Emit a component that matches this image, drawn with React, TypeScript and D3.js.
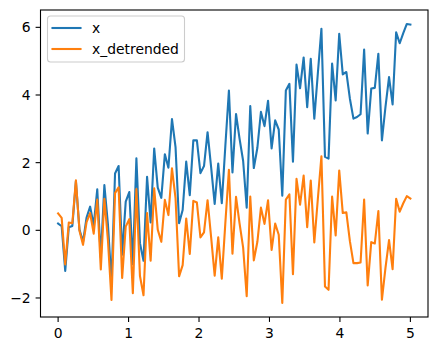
import { useEffect, useRef } from 'react';
import * as d3 from 'd3';

// 100 samples over 0..5
const xValues = [
  0.2, 0.12, -1.2, 0.09, 0.13, 1.45, 0.02, -0.34, 0.38, 0.7,
  0.15, 1.21, -0.8, 1.34, 0.18, -1.53, 1.68, 1.9, -0.72, 0.85,
  1.13, -1.0, 2.13, -0.38, -0.9, 1.58, 0.23, 2.42, 1.26, 0.96,
  2.25, 1.85, 3.29, 2.46, 0.21, 0.6, 2.03, 1.04, 2.66, 2.66,
  1.69, 1.9, 2.9, 1.87, 0.78, 1.97, 0.8, 2.5, 4.13, 1.71,
  3.44, 2.7, 2.05, 0.67, 3.67, 1.84, 2.44, 3.5, 3.08, 3.83,
  2.42, 3.25, 2.98, 1.02, 4.13, 4.33, 2.03, 4.9, 4.2, 5.11,
  3.64, 5.07, 3.3, 4.65, 5.96, 2.17, 2.12, 4.93, 3.84, 5.81,
  4.61, 4.68, 3.89, 3.3, 3.35, 3.43, 5.34, 2.86, 4.19, 4.21,
  5.22, 2.66, 3.65, 4.53, 3.72, 5.85, 5.53, 5.83, 6.1, 6.08,
];

const xDetrended = [
  0.5, 0.37, -1.01, 0.23, 0.21, 1.48, -0.01, -0.43, 0.24, 0.51,
  -0.1, 0.91, -1.16, 0.93, -0.29, -2.06, 1.1, 1.27, -1.41, 0.11,
  0.33, -1.86, 1.22, -1.35, -1.92, 0.51, -0.9, 1.24, 0.02, -0.34,
  0.9, 0.45, 1.83, 0.95, -1.36, -1.03, 0.35, -0.7, 0.87, 0.82,
  -0.21, -0.06, 0.89, -0.2, -1.34, -0.21, -1.43, 0.22, 1.79, -0.69,
  0.99, 0.2, -0.51, -1.95, 1.0, -0.89, -0.34, 0.67, 0.19, 0.89,
  -0.58, 0.2, -0.13, -2.15, 0.91, 1.06, -1.3, 1.52, 0.76, 1.62,
  0.09, 1.47, -0.36, 0.94, 2.19, -1.66, -1.76, 1.0, -0.15, 1.77,
  0.51, 0.53, -0.32, -0.97, -0.97, -0.95, 0.91, -1.63, -0.35, -0.39,
  0.57, -2.05, -1.11, -0.29, -1.15, 0.93, 0.55, 0.8, 1.01, 0.94,
];

const tValues = d3.range(xValues.length).map((i) => (i * 5) / (xValues.length - 1));

const xTicks = [0, 1, 2, 3, 4, 5];
const yTicks = [-2, 0, 2, 4, 6];

const series = [
  { label: 'x', values: xValues, color: '#1f77b4' },
  { label: 'x_detrended', values: xDetrended, color: '#ff7f0e' },
];

const width = 437;
const height = 351;
const font = 'DejaVu Sans, sans-serif';

export default function App() {
  const ref = useRef<SVGSVGElement>(null);

  useEffect(() => {
    if (!ref.current) return;
    const svg = d3.select(ref.current);
    svg.selectAll('*').remove();

    const left = 40.5;
    const right = 428;
    const top = 10;
    const bottom = 317;

    // matplotlib style 5% margins
    const tExt = d3.extent(tValues) as [number, number];
    const tPad = (tExt[1] - tExt[0]) * 0.05;
    const all = [...xValues, ...xDetrended];
    const yMin = d3.min(all) ?? 0;
    const yMax = d3.max(all) ?? 1;
    const yPad = (yMax - yMin) * 0.05;

    const x = d3.scaleLinear().domain([tExt[0] - tPad, tExt[1] + tPad]).range([left, right]);
    const y = d3.scaleLinear().domain([yMin - yPad, yMax + yPad]).range([bottom, top]);

    svg.append('rect').attr('width', width).attr('height', height).attr('fill', '#fff');

    const line = d3
      .line<number>()
      .x((_, i) => x(tValues[i]))
      .y((d) => y(d));

    const plot = svg.append('g');
    series.forEach((s) => {
      plot
        .append('path')
        .datum(s.values)
        .attr('fill', 'none')
        .attr('stroke', s.color)
        .attr('stroke-width', 2.1)
        .attr('stroke-linejoin', 'round')
        .attr('stroke-linecap', 'square')
        .attr('d', line);
    });

    // frame
    svg
      .append('rect')
      .attr('x', left)
      .attr('y', top)
      .attr('width', right - left)
      .attr('height', bottom - top)
      .attr('fill', 'none')
      .attr('stroke', '#000')
      .attr('stroke-width', 1.1);

    const fmt = d3.format('d');

    const xt = svg.append('g');
    xTicks.forEach((v) => {
      xt.append('line')
        .attr('x1', x(v))
        .attr('x2', x(v))
        .attr('y1', bottom)
        .attr('y2', bottom + 4.9)
        .attr('stroke', '#000')
        .attr('stroke-width', 1.1);
      xt.append('text')
        .attr('x', x(v))
        .attr('y', bottom + 21)
        .attr('text-anchor', 'middle')
        .attr('font-family', font)
        .attr('font-size', 13.9)
        .attr('fill', '#000')
        .text(fmt(v));
    });

    const yt = svg.append('g');
    yTicks.forEach((v) => {
      yt.append('line')
        .attr('x1', left - 4.9)
        .attr('x2', left)
        .attr('y1', y(v))
        .attr('y2', y(v))
        .attr('stroke', '#000')
        .attr('stroke-width', 1.1);
      yt.append('text')
        .attr('x', left - 9.8)
        .attr('y', y(v))
        .attr('dy', '0.36em')
        .attr('text-anchor', 'end')
        .attr('font-family', font)
        .attr('font-size', 13.9)
        .attr('fill', '#000')
        .text(fmt(v).replace('-', '\u2212'));
    });

    // legend
    const legend = svg.append('g');
    legend
      .append('rect')
      .attr('x', 47.5)
      .attr('y', 16)
      .attr('width', 137)
      .attr('height', 46)
      .attr('rx', 3)
      .attr('fill', '#fff')
      .attr('fill-opacity', 0.8)
      .attr('stroke', '#cccccc')
      .attr('stroke-width', 1.1);
    series.forEach((s, i) => {
      const yy = 28 + i * 21;
      legend
        .append('line')
        .attr('x1', 52.5)
        .attr('x2', 80.5)
        .attr('y1', yy)
        .attr('y2', yy)
        .attr('stroke', s.color)
        .attr('stroke-width', 2.1)
        .attr('stroke-linecap', 'square');
      legend
        .append('text')
        .attr('x', 92)
        .attr('y', yy + 5)
        .attr('font-family', font)
        .attr('font-size', 13.9)
        .attr('fill', '#000')
        .text(s.label);
    });
  }, []);

  return (
    <svg
      ref={ref}
      width={width}
      height={height}
      style={{ position: 'absolute', left: 0, top: 0 }}
    />
  );
}
